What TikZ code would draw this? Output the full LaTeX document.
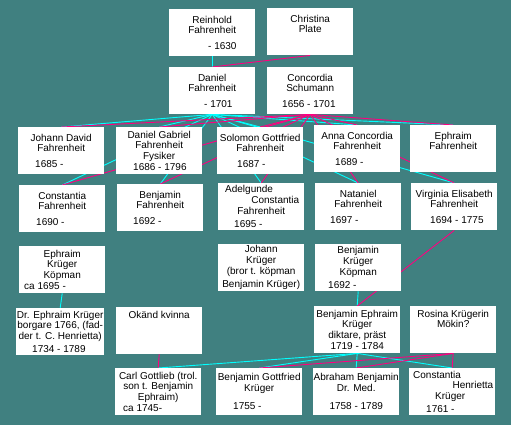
\documentclass[tikz,border=0pt]{standalone}
\usepackage{fontspec}
\setmainfont{Liberation Sans}
\usetikzlibrary{backgrounds}
\definecolor{bgteal}{RGB}{64,128,128}
\definecolor{facyan}{RGB}{0,255,255}
\definecolor{mopink}{RGB}{255,0,128}
% date line, left edge at #1 pt from the box's left side
\newcommand{\ind}[2]{\makebox[\dimexpr86pt-#1pt-#1pt\relax][l]{#2}}

\begin{document}
\begin{tikzpicture}[x=1pt, y=-1pt,
  box/.style={fill=white,minimum width=86pt,minimum height=47pt,inner sep=0pt,
    align=center,anchor=north west,font=\fontsize{10}{10.7}\selectfont},
  fa/.style={facyan,line width=0.9pt},
  mo/.style={mopink,line width=0.9pt}]

% generation 1 and 2
\node[box] (reinhold) at (169,9) {Reinhold\\Fahrenheit\\[5pt]\ind{39}{- 1630}};
\node[box] (christina) at (267,8) {Christina\\Plate\\[5pt]\mbox{}};
\node[box] (daniel) at (169,67) {Daniel\\Fahrenheit\\[5pt]\ind{35}{- 1701}};
\node[box] (concordia) at (267,67) {Concordia\\Schumann\\[5pt]\ind{15}{1656 - 1701}};

% children of Daniel
\node[box] (jdavid) at (18,127) {Johann David\\Fahrenheit\\[5pt]\ind{17}{1685 -}};
\node[box] (dgabriel) at (116,127) {Daniel Gabriel\\Fahrenheit\\Fysiker\\\ind{17}{1686 - 1796}};
\node[box] (solomon) at (217,127) {Solomon Gottfried\\Fahrenheit\\[5pt]\ind{20}{1687 -}};
\node[box] (anna) at (314,125) {Anna Concordia\\Fahrenheit\\[5pt]\ind{21}{1689 -}};
\node[box] (ephraim) at (410,125) {Ephraim\\Fahrenheit\\[5pt]\mbox{}};

\node[box] (constantia) at (19,185) {Constantia\\Fahrenheit\\[5pt]\ind{17}{1690 -}};
\node[box] (benjamin) at (117,184) {Benjamin\\Fahrenheit\\[5pt]\ind{16}{1692 -}};
\node[box] (adelgunde) at (218,183) {\ind{7}{Adelgunde}\\\makebox[76pt][r]{Constantia}\\Fahrenheit\\[3pt]\ind{16}{1695 -}};
\node[box] (nataniel) at (315,183) {Nataniel\\Fahrenheit\\[5pt]\ind{15}{1697 -}};
\node[box] (virginia) at (411,183) {Virginia Elisabeth\\Fahrenheit\\[5pt]\ind{19}{1694 - 1775}};

% Krüger
\node[box] (ephk) at (19,246) {Ephraim\\Krüger\\Köpman\\\ind{5}{ca 1695 -}};
\node[box] (johannk) at (218,244) {Johann\\Krüger\\(bror t. köpman\\[3pt]Benjamin Krüger)};
\node[box] (benjk) at (315,244) {Benjamin\\Krüger\\Köpman\\[3pt]\ind{13}{1692 -}};

\node[box,minimum width=88pt] (drephr) at (16,308) {Dr. Ephraim Krüger\\borgare 1766, (fad-\\der t. C. Henrietta)\\[2pt]\ind{15}{1734 - 1789}};
\node[box] (okand) at (116,307) {Okänd kvinna\\\mbox{}\\\mbox{}\\\mbox{}};
\node[box] (benje) at (314,306) {Benjamin Ephraim\\Krüger\\diktare, präst\\1719 - 1784};
\node[box] (rosina) at (410,306) {Rosina Krügerin\\Mökin?\\\mbox{}\\\mbox{}};

\node[box] (carl) at (115,368) {Carl Gottlieb (trol.\\son t. Benjamin\\Ephraim)\\\ind{8}{ca 1745-}};
\node[box] (benjg) at (216,368) {Benjamin Gottfried\\Krüger\\[8pt]\ind{17}{1755 -}};
\node[box] (abraham) at (313,368) {Abraham Benjamin\\Dr. Med.\\[8pt]1758 - 1789};
\node[box] (consth) at (409,368) {\ind{4}{Constantia}\\\makebox[82pt][r]{Henrietta}\\\ind{26}{Krüger}\\[2pt]\ind{17}{1761 -}};

\begin{scope}[on background layer]
\fill[bgteal] (0,0) rectangle (511,425);

% fathers
\draw[fa] (reinhold.south)--(daniel.north);
\draw[fa] (daniel.south)--(jdavid.north);
\draw[fa] (daniel.south)--(dgabriel.north);
\draw[fa] (daniel.south)--(solomon.north);
\draw[fa] (daniel.south)--(anna.north);
\draw[fa] (daniel.south)--(ephraim.north);
\draw[fa] (daniel.south)--(constantia.north);
\draw[fa] (daniel.south)--(benjamin.north);
\draw[fa] (daniel.south)--(adelgunde.north);
\draw[fa] (daniel.south)--(nataniel.north);
\draw[fa] (daniel.south)--(virginia.north);
\draw[fa] (ephk.south)--(drephr.north);
\draw[fa] (benjk.south)--(benje.north);
\draw[fa] (benje.south)--(carl.north);
\draw[fa] (benje.south)--(benjg.north);
\draw[fa] (benje.south)--(abraham.north);
\draw[fa] (benje.south)--(consth.north);

% mothers
\draw[mo] (christina.south)--(daniel.north);
\draw[mo] (concordia.south)--(jdavid.north);
\draw[mo] (concordia.south)--(dgabriel.north);
\draw[mo] (concordia.south)--(solomon.north);
\draw[mo] (concordia.south)--(anna.north);
\draw[mo] (concordia.south)--(ephraim.north);
\draw[mo] (concordia.south)--(constantia.north);
\draw[mo] (concordia.south)--(benjamin.north);
\draw[mo] (concordia.south)--(adelgunde.north);
\draw[mo] (concordia.south)--(nataniel.north);
\draw[mo] (concordia.south)--(virginia.north);
\draw[mo] (virginia.south)--(benje.north);
\draw[mo] (okand.south)--(carl.north);
\draw[mo] (rosina.south)--(benjg.north);
\draw[mo] (rosina.south)--(abraham.north);
\draw[mo] (rosina.south)--(consth.north);
\end{scope}
\end{tikzpicture}
\end{document}
